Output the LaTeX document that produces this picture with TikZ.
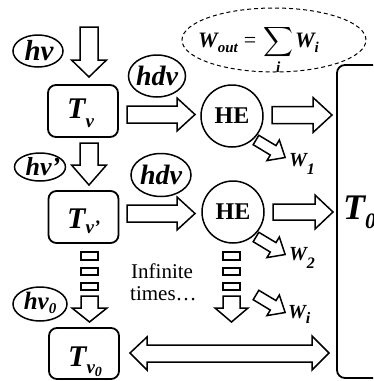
\documentclass[tikz,border=0pt]{standalone}
\usepackage{amsmath}
\usepackage{fontspec}
\setmainfont{Liberation Serif}
\usetikzlibrary{shapes.geometric}
\newcommand\fs[1]{\fontsize{#1}{#1}\selectfont}
\newcommand\lowsub[3]{\raisebox{-#1pt}{\fs{#2}#3}}
% block arrow: tail centre (#1,#2), length #3, angle #4, shaft half #5, head half #6, head length #7
\newcommand\blockarr[7]{%
  \begin{scope}[shift={(#1,#2)},rotate=#4]
    \draw[barrow] (0,#5) -- ({#3-#7},#5) -- ({#3-#7},#6) -- (#3,0) -- ({#3-#7},-#6) -- ({#3-#7},-#5) -- (0,-#5) -- cycle;
  \end{scope}}
\begin{document}
\begin{tikzpicture}[x=1pt,y=-1pt,
  tbox/.style={draw, line width=1.8pt, rounded corners=8pt, minimum width=70pt, minimum height=52pt, inner sep=0pt},
  oval/.style={draw, ellipse, line width=1.5pt, inner sep=0pt},
  otext/.style={inner sep=0pt, font=\fs{29}\bfseries\itshape},
  hecirc/.style={draw, circle, line width=1.5pt, minimum size=62pt, inner sep=0pt, font=\fs{24}\bfseries},
  barrow/.style={draw, line width=1.5pt, fill=white, line join=miter},
  lbl/.style={anchor=base west, inner sep=0pt},
]
\useasboundingbox (0,0) rectangle (373,381);
\clip (0,0) rectangle (373,381);

% boxes
\node[tbox] (tv) at (83,111) {};
\node[tbox] (tvp) at (83.5,217) {};
\node[tbox, minimum height=51pt] (tv0) at (84,353.5) {};
\node[tbox, minimum width=120pt, minimum height=313pt] (t0) at (397,221.5) {};

\node[lbl, font=\fs{30}\bfseries\itshape] (tvl) at (67,118) {T\lowsub{9}{19}{v}};
\node[lbl, font=\fs{30}\bfseries\itshape] (tvpl) at (67,228) {T\lowsub{5}{19}{v’}};
\node[lbl, font=\fs{30}\bfseries\itshape] (tv0l) at (68,366) {T\lowsub{7}{19}{v\lowsub{3}{14}{0}}};
\node[lbl, font=\fs{36}\bfseries\itshape] (t0l) at (343,219) {T\lowsub{9}{22}{0}};

% ovals
\node[oval, minimum width=50pt, minimum height=32pt] (hv) at (38,51) {};
\node[otext, xshift=1pt] (hvt) at (hv) {hv};
\node[oval, minimum width=51pt, minimum height=28pt] (hvp) at (40,167) {};
\node[otext, font=\fs{26}\bfseries\itshape, xshift=3pt] (hvpt) at (hvp) {hv’};
\node[oval, minimum width=54pt, minimum height=34pt] (hv0) at (40,304) {};
\node[otext, font=\fs{25}\bfseries\itshape, xshift=0pt, yshift=1pt] (hv0t) at (hv0) {hv\lowsub{4}{15}{0}};
\node[oval, minimum width=57pt, minimum height=42pt] (hdv1) at (157,76) {};
\node[otext, font=\fs{28}\bfseries\itshape] (hdv1t) at (hdv1) {hdv};
\node[oval, minimum width=60pt, minimum height=43pt] (hdv2) at (161,175) {};
\node[otext, font=\fs{28}\bfseries\itshape] (hdv2t) at (hdv2) {hdv};

% heat engines
\node[hecirc] (he1) at (232,116) {HE};
\node[hecirc] (he2) at (233,212) {HE};

% W_out
\node[draw, ellipse, line width=1pt, dash pattern=on 4pt off 3pt, minimum width=184pt, minimum height=64pt] (wsum) at (274,40) {};
\node[lbl, font=\fs{22}] (wf) at (198,47) {\bfseries\itshape W\lowsub{5}{15}{out}\hspace{6pt}\normalfont=\hspace{7pt}$\displaystyle\sum_{\textbf{\textit{i}}}$\hspace{2pt}\bfseries\itshape W\lowsub{5}{15}{i}};

% vertical arrows
\blockarr{89}{27}{50}{-90}{9}{17.5}{17}
\blockarr{89}{143}{42}{-90}{9}{17.5}{20}
\draw[barrow] (81,252) rectangle (98,260);
\draw[barrow] (81,268) rectangle (98,275);
\draw[barrow] (81,283) rectangle (98,290);
\blockarr{89.5}{296}{26}{-90}{8.5}{17.5}{14}
\draw[barrow] (223,252) rectangle (240,260);
\draw[barrow] (223,268) rectangle (240,275);
\draw[barrow] (223,283) rectangle (240,290);
\blockarr{231.5}{296}{26}{-90}{8.5}{16.5}{14}

% horizontal arrows
\blockarr{127}{114.5}{68}{0}{8.5}{16.5}{18}
\blockarr{272}{115}{60}{0}{8.5}{17.5}{19}
\blockarr{127}{213.5}{68}{0}{8.5}{16.5}{18}
\blockarr{273}{212}{60}{0}{8}{17}{18}
\draw[barrow] (130,353) -- (147,337) -- (147,345) -- (312,345) -- (312,336) -- (329,353) -- (312,370) -- (312,362) -- (147,362) -- (147,370) -- cycle;

% work arrows
\blockarr{256}{140}{34}{-31}{5.5}{12}{14}
\blockarr{256}{237}{34}{-31}{5.5}{12}{14}
\blockarr{256}{295}{34}{-31}{5.5}{12}{14}
\node[lbl, font=\fs{20}\bfseries\itshape] (w1) at (289,166) {W\lowsub{8}{16}{1}};
\node[lbl, font=\fs{20}\bfseries\itshape] (w2) at (289,260) {W\lowsub{8}{16}{2}};
\node[lbl, font=\fs{20}\bfseries\itshape] (wi) at (288,318) {W\lowsub{5}{16}{i}};

% text
\node[lbl, font=\fs{21}] (inf1) at (131,278) {Infinite};
\node[lbl, font=\fs{21}] (inf2) at (130,300) {times…};
\end{tikzpicture}
\end{document}
